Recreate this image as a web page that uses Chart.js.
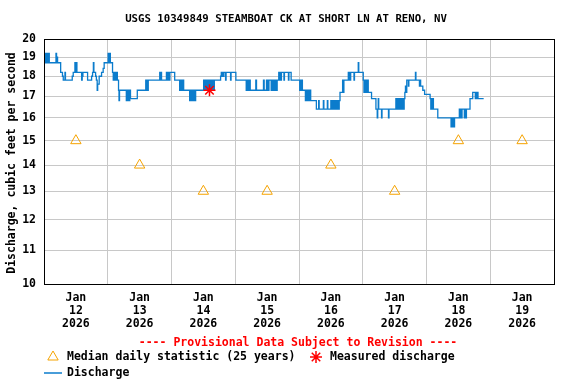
<!DOCTYPE html>
<html>
<head>
<meta charset="utf-8">
<script src="https://cdn.jsdelivr.net/npm/chart.js@4.4.1/dist/chart.umd.min.js"></script>
<style>
  html, body { margin: 0; padding: 0; background: #fff; }
</style>
</head>
<body>
<canvas id="chart" width="576" height="384"></canvas>
<script>
// x values are hours since Jan 12 2026 00:00
const stationTitle = 'USGS 10349849 STEAMBOAT CK AT SHORT LN AT RENO, NV';
const dayLabels = ['12', '13', '14', '15', '16', '17', '18', '19'];
const yTicks = [10, 11, 12, 13, 14, 15, 16, 17, 18, 19, 20];

const medianHours = [12, 36, 60, 84, 108, 132, 156, 180];
const medianCfs = [15, 14, 13, 13, 14, 13, 15, 15];

const measuredHours = [62.3];
const measuredCfs = [17.3];

// [hour, cfs] - each value holds until the next point
const discharge = [
  [0, 19.2], [0.38, 18.7], [0.64, 19.2], [0.94, 18.7], [1.2, 19.2], [1.5, 18.7], [1.77, 19.2],
  [1.99, 18.7], [4.51, 19.2], [4.73, 18.7], [4.88, 19.0], [5.11, 18.7],
  [6.27, 18.2], [6.95, 18.0], [7.25, 17.8], [7.89, 18.2], [8.08, 17.8],
  [10.63, 18.0], [11.0, 18.2], [11.64, 18.7], [11.91, 18.2], [12.13, 18.7], [12.39, 18.2],
  [14.16, 17.8], [14.39, 18.2], [14.54, 18.0], [14.65, 18.2], [16.41, 17.8],
  [17.92, 18.0], [18.29, 18.2], [18.59, 18.7], [18.78, 18.2],
  [19.42, 18.0], [19.72, 17.8], [20.02, 17.3], [20.21, 17.6],
  [20.77, 18.0], [21.67, 18.2], [22.27, 18.4], [22.65, 18.7],
  [24.15, 19.2], [24.34, 18.7], [24.53, 19.2], [24.71, 18.7], [24.9, 19.2], [24.98, 18.7],
  [25.8, 18.2], [26.07, 17.8], [26.29, 18.2], [26.55, 17.8], [26.82, 18.2], [27.04, 17.8], [27.31, 18.2],
  [27.61, 17.8], [28.06, 17.3], [28.24, 16.8], [28.43, 17.3],
  [30.99, 16.8], [31.25, 17.3], [31.51, 16.8], [31.78, 17.3], [32.04, 16.8], [32.3, 17.3], [32.56, 16.9],
  [35.12, 17.3],
  [38.31, 17.8], [38.57, 17.3], [38.8, 17.8], [39.06, 17.3], [39.25, 17.8],
  [43.57, 18.2], [43.83, 17.8], [44.06, 18.2], [44.25, 17.8],
  [46.09, 18.2], [46.57, 17.8], [46.76, 18.2], [47.21, 17.8], [47.4, 18.2],
  [49.2, 17.8],
  [51.08, 17.3], [51.34, 17.8], [51.57, 17.3], [51.83, 17.8], [52.1, 17.3], [52.32, 17.8], [52.58, 17.3],
  [54.84, 16.8], [55.1, 17.3], [55.33, 16.8], [55.59, 17.3], [55.85, 16.8], [56.08, 17.3],
  [56.34, 16.8], [56.6, 17.3], [56.83, 16.8], [57.09, 17.3],
  [60.1, 17.8], [60.36, 17.3], [60.58, 17.8], [60.85, 17.3], [61.11, 17.8], [61.34, 17.3],
  [61.6, 17.8], [61.86, 17.3], [62.09, 17.8], [62.35, 17.3], [62.61, 17.8], [62.84, 17.3],
  [63.1, 17.8], [63.36, 17.3], [63.59, 17.8], [63.85, 17.3], [64.12, 17.8],
  [66.48, 18.0], [66.74, 18.2], [66.97, 18.0], [67.23, 18.2], [67.5, 18.0], [67.72, 18.2],
  [68.36, 17.8], [68.55, 18.2], [70.24, 17.8], [70.42, 18.2],
  [72.23, 17.8],
  [76.13, 17.3], [76.36, 17.8], [76.62, 17.3], [76.88, 17.8], [77.11, 17.3], [77.37, 17.8], [77.64, 17.3],
  [79.74, 17.8], [80.0, 17.3], [82.63, 17.8], [82.89, 17.3],
  [83.76, 17.8], [84.02, 17.3], [84.25, 17.8], [84.51, 17.3], [84.7, 17.8],
  [85.52, 17.3], [85.75, 17.8], [86.01, 17.3], [86.27, 17.8], [86.5, 17.3], [86.76, 17.8],
  [87.02, 17.3], [87.25, 17.8], [87.51, 17.3], [87.78, 17.8],
  [88.38, 18.2], [88.64, 17.8], [88.9, 18.2], [89.13, 17.8], [89.39, 18.2],
  [90.33, 17.8], [90.52, 18.2], [92.02, 17.8], [92.21, 18.2],
  [93.04, 17.8],
  [96.27, 17.3], [96.53, 17.8], [96.79, 17.3], [97.02, 17.8], [97.28, 17.3],
  [98.41, 16.8], [98.67, 17.3], [98.9, 16.8], [99.16, 17.3], [99.42, 16.8], [99.65, 17.3],
  [99.91, 16.8], [100.17, 17.3], [100.4, 16.8],
  [102.54, 16.4], [103.4, 16.8], [103.59, 16.4], [105.17, 16.8], [105.36, 16.4], [106.67, 16.8], [106.86, 16.4],
  [107.99, 16.8], [108.25, 16.4], [108.51, 16.8], [108.78, 16.4], [109.04, 16.8], [109.3, 16.4],
  [109.56, 16.8], [109.83, 16.4], [110.09, 16.8], [110.35, 16.4], [110.62, 16.8], [110.88, 16.4], [111.14, 16.8],
  [111.44, 17.2], [112.42, 17.8], [112.68, 17.2], [112.9, 17.8],
  [114.56, 18.2], [114.78, 17.8], [115.01, 18.2], [115.24, 17.8], [115.46, 18.2],
  [116.7, 17.8], [116.89, 18.2], [118.31, 18.7], [118.5, 18.2],
  [120.19, 17.8], [120.45, 17.2], [120.72, 17.8], [120.98, 17.2], [121.24, 17.8], [121.51, 17.2],
  [121.77, 17.8], [122.07, 17.2],
  [123.31, 16.9], [124.96, 16.4],
  [125.45, 16.0], [125.64, 16.4], [125.83, 16.9], [126.01, 16.4],
  [127.07, 16.0], [127.25, 16.4], [129.69, 16.0], [129.88, 16.4],
  [132.47, 16.9], [132.74, 16.4], [133.0, 16.9], [133.26, 16.4], [133.53, 16.9], [133.79, 16.4],
  [134.05, 16.9], [134.32, 16.4], [134.58, 16.9], [134.84, 16.4], [135.11, 16.9], [135.37, 16.4], [135.59, 16.9],
  [135.85, 17.2], [136.08, 17.5], [136.34, 17.2], [136.57, 17.8],
  [137.17, 17.5], [137.36, 17.8], [139.84, 18.2], [140.02, 17.8],
  [141.34, 17.5], [141.6, 17.8], [141.79, 17.5],
  [142.61, 17.3], [143.29, 17.1],
  [145.36, 16.9], [145.62, 16.4], [145.84, 16.9], [146.11, 16.4], [146.37, 16.9], [146.6, 16.4],
  [148.25, 16.0],
  [153.24, 15.6], [153.51, 16.0], [153.77, 15.6], [154.03, 16.0], [154.3, 15.6], [154.56, 16.0],
  [156.36, 16.4], [156.62, 16.0], [156.89, 16.4], [157.15, 16.0], [157.38, 16.4],
  [158.24, 16.0], [158.5, 16.4], [158.77, 16.0], [159.03, 16.4],
  [160.38, 16.9], [161.4, 17.2],
  [162.37, 16.9], [162.64, 17.2], [162.9, 16.9], [163.16, 17.2], [163.39, 16.9],
  [165.52, 16.9]
];

const FONT = "'DejaVu Sans Mono', monospace";
const BLUE = '#0b7ccc';
const ORANGE = '#f5a300';

// titles, frame and the legend under the axis
const extras = {
  id: 'extras',
  afterDraw(chart) {
    const { ctx, chartArea: a } = chart;
    ctx.save();
    ctx.strokeStyle = '#000';
    ctx.lineWidth = 1;
    ctx.strokeRect(a.left + 0.5, a.top + 0.5, a.right - a.left, a.bottom - a.top);

    ctx.fillStyle = '#000';
    ctx.textBaseline = 'middle';
    ctx.textAlign = 'center';
    ctx.font = 'bold 10.7px ' + FONT;
    ctx.fillText(stationTitle, 286, 19);

    ctx.save();
    ctx.translate(12, 163);
    ctx.rotate(-Math.PI / 2);
    ctx.font = 'bold 11.5px ' + FONT;
    ctx.fillText('Discharge, cubic feet per second', 0, 0);
    ctx.restore();

    ctx.font = 'bold 11.5px ' + FONT;
    ctx.fillStyle = '#ff0000';
    ctx.fillText('---- Provisional Data Subject to Revision ----', 298, 343);

    ctx.textAlign = 'left';
    ctx.fillStyle = '#000';
    ctx.fillText('Median daily statistic (25 years)', 67, 357);
    ctx.fillText('Measured discharge', 330, 357);
    ctx.fillText('Discharge', 67, 373);

    ctx.fillStyle = 'rgba(0,0,0,0)';
    ctx.strokeStyle = ORANGE;
    Chart.helpers.drawPoint(ctx, { pointStyle: 'triangle', radius: 6, borderWidth: 1, rotation: 0 }, 53, 357);
    ctx.strokeStyle = '#ff0000';
    ctx.lineWidth = 1.5;
    Chart.helpers.drawPoint(ctx, { pointStyle: 'star', radius: 6, borderWidth: 1.5, rotation: 0 }, 316, 357);

    ctx.strokeStyle = BLUE;
    ctx.lineWidth = 1.5;
    ctx.beginPath();
    ctx.moveTo(44, 373);
    ctx.lineTo(62, 373);
    ctx.stroke();
    ctx.restore();
  }
};

new Chart(document.getElementById('chart'), {
  type: 'line',
  data: {
    datasets: [
      {
        label: 'Measured discharge',
        data: measuredHours.map((h, i) => ({ x: h, y: measuredCfs[i] })),
        showLine: false,
        pointStyle: 'star',
        pointRadius: 6,
        borderColor: '#ff0000',
        backgroundColor: 'rgba(0,0,0,0)',
        pointBorderWidth: 1.5
      },
      {
        label: 'Median daily statistic (25 years)',
        data: medianHours.map((h, i) => ({ x: h, y: medianCfs[i] })),
        showLine: false,
        pointStyle: 'triangle',
        pointRadius: 6,
        borderColor: ORANGE,
        backgroundColor: 'rgba(0,0,0,0)',
        pointBorderWidth: 1
      },
      {
        label: 'Discharge',
        data: discharge.map(([h, v]) => ({ x: h, y: v })),
        stepped: true,
        borderColor: BLUE,
        borderWidth: 1.3,
        pointRadius: 0,
        fill: false
      }
    ]
  },
  options: {
    responsive: false,
    animation: false,
    devicePixelRatio: 1,
    layout: { padding: { top: 39, right: 22, left: 0, bottom: 0 } },
    plugins: { legend: { display: false }, tooltip: { enabled: false } },
    scales: {
      x: {
        type: 'linear',
        min: 0,
        max: 192,
        afterFit: (s) => { s.height = 100; },
        afterBuildTicks: (s) => {
          const t = [];
          for (let v = 0; v <= 192; v += 12) t.push({ value: v });
          s.ticks = t;
        },
        ticks: {
          autoSkip: false,
          maxRotation: 0,
          padding: 8,
          color: '#000',
          font: { family: FONT, size: 11.5, weight: 'bold', lineHeight: 1.13 },
          callback: (v) => (v % 24 === 12 ? ['Jan', dayLabels[(v - 12) / 24], '2026'] : '')
        },
        grid: {
          drawTicks: false,
          color: (c) => (c.tick && c.tick.value % 24 === 0 ? '#c8c8c8' : 'rgba(0,0,0,0)')
        },
        border: { color: '#000' }
      },
      y: {
        type: 'logarithmic',
        min: 10,
        max: 20,
        afterFit: (s) => { s.width = 44; },
        afterBuildTicks: (s) => { s.ticks = yTicks.map((v) => ({ value: v })); },
        ticks: {
          padding: 8,
          color: '#000',
          font: { family: FONT, size: 11.5, weight: 'bold' },
          callback: (v) => String(v)
        },
        grid: { drawTicks: false, color: '#c8c8c8' },
        border: { color: '#000' }
      }
    }
  },
  plugins: [extras]
});
</script>
</body>
</html>
